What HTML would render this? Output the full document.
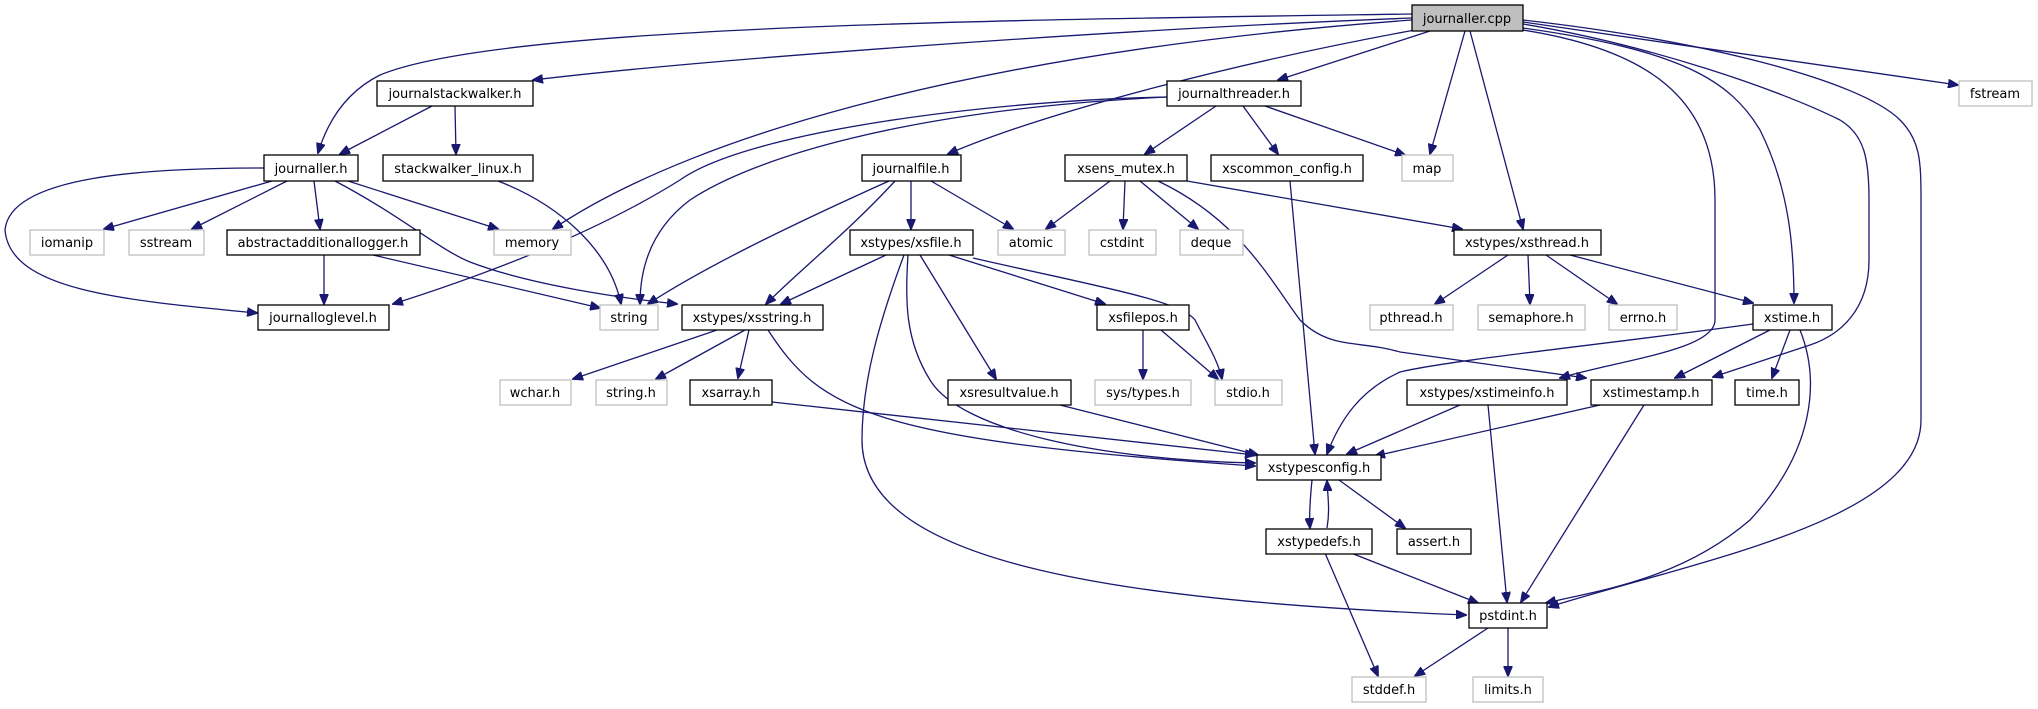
<!DOCTYPE html>
<html><head><meta charset="utf-8"><style>
html,body{margin:0;padding:0;background:#fff;width:2038px;height:709px;overflow:hidden}
svg{display:block}
text{font-family:"DejaVu Sans","Liberation Sans",sans-serif;font-size:13px;fill:#000}
.e{fill:none;stroke:#191970;stroke-width:1.3}
.n{fill:#fff;stroke:#000;stroke-width:1.3}
.x{fill:#fff;stroke:#bfbfbf;stroke-width:1.3}
</style></head><body>
<svg width="2038" height="709" viewBox="0 0 2038 709" xmlns="http://www.w3.org/2000/svg">
<defs><marker id="a" markerWidth="11" markerHeight="9" refX="10" refY="4.5" orient="auto" markerUnits="userSpaceOnUse"><path d="M0,0 L11,4.5 L0,9 Z" fill="#191970" stroke="#191970"/></marker></defs>
<g marker-end="url(#a)">
<path class="e" d="M1412,14 C1000,20 500,25 380,75 C340,95 325,130 318,153"/>
<path class="e" d="M1412,18 C1100,30 700,60 533,80"/>
<path class="e" d="M1412,20 C1000,50 700,130 553,229"/>
<path class="e" d="M1415,30 C1250,60 1050,110 948,154"/>
<path class="e" d="M1430,31 L1278,80"/>
<path class="e" d="M1465,31 L1430,154"/>
<path class="e" d="M1470,31 L1523,229"/>
<path class="e" d="M1523,28 C1680,50 1730,80 1760,130 C1790,190 1794,250 1794,303"/>
<path class="e" d="M1523,22 L1958,85"/>
<path class="e" d="M1523,20 C1700,40 1860,80 1900,120 C1920,140 1921,160 1921,200 L1921,420 C1921,520 1700,560 1549,607"/>
<path class="e" d="M1523,30 C1650,50 1715,100 1715,200 L1715,320 C1715,350 1620,360 1560,378"/>
<path class="e" d="M1523,24 C1650,45 1780,90 1840,120 C1865,135 1869,160 1869,200 L1869,260 C1869,310 1840,335 1810,345 L1713,377"/>
<path class="e" d="M432,106 L340,154"/>
<path class="e" d="M455,106 L456,154"/>
<path class="e" d="M272,181 L104,229"/>
<path class="e" d="M287,181 L192,229"/>
<path class="e" d="M314,181 L320,229"/>
<path class="e" d="M348,181 L498,229"/>
<path class="e" d="M264,168 C150,168 10,175 5,230 C10,290 120,300 257,313"/>
<path class="e" d="M335,181 C400,215 440,250 470,262 C530,285 620,298 677,304"/>
<path class="e" d="M498,181 C560,205 610,250 621,304"/>
<path class="e" d="M324,255 L324,304"/>
<path class="e" d="M373,255 L600,308"/>
<path class="e" d="M1167,97 C1000,100 750,130 680,180 C600,230 500,270 393,304"/>
<path class="e" d="M1167,97 C900,110 750,160 690,200 C650,230 640,270 640,304"/>
<path class="e" d="M1216,106 L1145,154"/>
<path class="e" d="M1243,106 L1278,154"/>
<path class="e" d="M1265,106 L1405,155"/>
<path class="e" d="M889,181 C780,230 700,270 648,304"/>
<path class="e" d="M895,181 C850,230 800,270 766,304"/>
<path class="e" d="M911,181 L911,229"/>
<path class="e" d="M931,181 L1013,229"/>
<path class="e" d="M1110,181 L1046,229"/>
<path class="e" d="M1125,181 L1123,229"/>
<path class="e" d="M1140,181 L1198,229"/>
<path class="e" d="M1187,181 L1462,229"/>
<path class="e" d="M1158,181 C1240,220 1270,280 1300,320 C1330,350 1360,340 1400,352 L1586,378"/>
<path class="e" d="M1290,181 L1315,454"/>
<path class="e" d="M886,255 L781,304"/>
<path class="e" d="M904,255 C880,320 862,380 862,440 C862,560 1100,600 1466,615"/>
<path class="e" d="M908,255 C905,300 905,340 930,380 C960,430 1100,460 1255,463"/>
<path class="e" d="M920,255 L996,379"/>
<path class="e" d="M949,255 L1105,304"/>
<path class="e" d="M973,258 C1090,285 1180,300 1195,320 C1205,340 1218,360 1222,379"/>
<path class="e" d="M717,330 L573,379"/>
<path class="e" d="M745,330 L656,379"/>
<path class="e" d="M749,330 L738,378"/>
<path class="e" d="M768,330 C820,410 870,440 1255,466"/>
<path class="e" d="M772,402 L1255,455"/>
<path class="e" d="M1060,405 L1258,455"/>
<path class="e" d="M1143,330 L1143,379"/>
<path class="e" d="M1161,330 L1218,379"/>
<path class="e" d="M1508,255 L1435,304"/>
<path class="e" d="M1528,255 L1530,304"/>
<path class="e" d="M1546,255 L1617,304"/>
<path class="e" d="M1570,255 L1753,303"/>
<path class="e" d="M1753,324 C1600,345 1450,360 1400,372 C1360,390 1340,420 1327,454"/>
<path class="e" d="M1770,330 L1675,378"/>
<path class="e" d="M1790,330 L1772,378"/>
<path class="e" d="M1800,330 C1820,380 1815,450 1750,520 C1680,580 1600,590 1546,603"/>
<path class="e" d="M1460,405 L1347,454"/>
<path class="e" d="M1488,405 L1507,602"/>
<path class="e" d="M1600,405 L1375,456"/>
<path class="e" d="M1644,405 L1521,602"/>
<path class="e" d="M1312,480 C1310,500 1309,515 1310,528"/>
<path class="e" d="M1327,528 C1330,510 1328,500 1327,481"/>
<path class="e" d="M1339,480 L1405,528"/>
<path class="e" d="M1351,553 L1478,603"/>
<path class="e" d="M1325,553 L1378,676"/>
<path class="e" d="M1488,628 L1415,676"/>
<path class="e" d="M1508,628 L1508,676"/>
</g>
<g text-anchor="middle">
<rect x="1412" y="5" width="111" height="26" fill="#bfbfbf" stroke="#000" stroke-width="1.3"/><text x="1467" y="23">journaller.cpp</text>
<rect class="x" x="1959" y="81" width="73" height="25"/><text x="1995" y="98">fstream</text>
<rect class="n" x="377" y="81" width="156" height="25"/><text x="455" y="98">journalstackwalker.h</text>
<rect class="n" x="1167" y="81" width="134" height="25"/><text x="1234" y="98">journalthreader.h</text>
<rect class="n" x="264" y="155" width="94" height="26"/><text x="311" y="173">journaller.h</text>
<rect class="n" x="383" y="155" width="150" height="26"/><text x="458" y="173">stackwalker_linux.h</text>
<rect class="n" x="862" y="155" width="99" height="26"/><text x="911" y="173">journalfile.h</text>
<rect class="n" x="1065" y="155" width="122" height="26"/><text x="1126" y="173">xsens_mutex.h</text>
<rect class="n" x="1211" y="155" width="152" height="26"/><text x="1287" y="173">xscommon_config.h</text>
<rect class="x" x="1402" y="155" width="51" height="26"/><text x="1427" y="173">map</text>
<rect class="x" x="30" y="230" width="74" height="25"/><text x="67" y="247">iomanip</text>
<rect class="x" x="129" y="230" width="75" height="25"/><text x="166" y="247">sstream</text>
<rect class="n" x="227" y="230" width="193" height="25"/><text x="323" y="247">abstractadditionallogger.h</text>
<rect class="x" x="494" y="230" width="77" height="25"/><text x="532" y="247">memory</text>
<rect class="n" x="850" y="230" width="123" height="25"/><text x="911" y="247">xstypes/xsfile.h</text>
<rect class="x" x="998" y="230" width="67" height="25"/><text x="1031" y="247">atomic</text>
<rect class="x" x="1089" y="230" width="67" height="25"/><text x="1122" y="247">cstdint</text>
<rect class="x" x="1180" y="230" width="63" height="25"/><text x="1211" y="247">deque</text>
<rect class="n" x="1454" y="230" width="147" height="25"/><text x="1527" y="247">xstypes/xsthread.h</text>
<rect class="n" x="258" y="305" width="131" height="25"/><text x="323" y="322">journalloglevel.h</text>
<rect class="x" x="600" y="305" width="58" height="25"/><text x="629" y="322">string</text>
<rect class="n" x="682" y="305" width="141" height="25"/><text x="752" y="322">xstypes/xsstring.h</text>
<rect class="n" x="1097" y="305" width="92" height="25"/><text x="1143" y="322">xsfilepos.h</text>
<rect class="x" x="1370" y="305" width="83" height="25"/><text x="1411" y="322">pthread.h</text>
<rect class="x" x="1478" y="305" width="107" height="25"/><text x="1531" y="322">semaphore.h</text>
<rect class="x" x="1609" y="305" width="68" height="25"/><text x="1643" y="322">errno.h</text>
<rect class="n" x="1753" y="305" width="79" height="25"/><text x="1792" y="322">xstime.h</text>
<rect class="x" x="500" y="380" width="71" height="25"/><text x="535" y="397">wchar.h</text>
<rect class="x" x="596" y="380" width="71" height="25"/><text x="631" y="397">string.h</text>
<rect class="n" x="690" y="380" width="82" height="25"/><text x="731" y="397">xsarray.h</text>
<rect class="n" x="948" y="380" width="123" height="25"/><text x="1009" y="397">xsresultvalue.h</text>
<rect class="x" x="1095" y="380" width="96" height="25"/><text x="1143" y="397">sys/types.h</text>
<rect class="x" x="1215" y="380" width="67" height="25"/><text x="1248" y="397">stdio.h</text>
<rect class="n" x="1407" y="380" width="160" height="25"/><text x="1487" y="397">xstypes/xstimeinfo.h</text>
<rect class="n" x="1591" y="380" width="121" height="25"/><text x="1651" y="397">xstimestamp.h</text>
<rect class="n" x="1735" y="380" width="64" height="25"/><text x="1767" y="397">time.h</text>
<rect class="n" x="1257" y="455" width="124" height="25"/><text x="1319" y="472">xstypesconfig.h</text>
<rect class="n" x="1266" y="529" width="106" height="25"/><text x="1319" y="546">xstypedefs.h</text>
<rect class="n" x="1397" y="529" width="74" height="25"/><text x="1434" y="546">assert.h</text>
<rect class="n" x="1469" y="603" width="78" height="25"/><text x="1508" y="620">pstdint.h</text>
<rect class="x" x="1352" y="677" width="74" height="25"/><text x="1389" y="694">stddef.h</text>
<rect class="x" x="1473" y="677" width="70" height="25"/><text x="1508" y="694">limits.h</text>
</g>
</svg>
</body></html>
